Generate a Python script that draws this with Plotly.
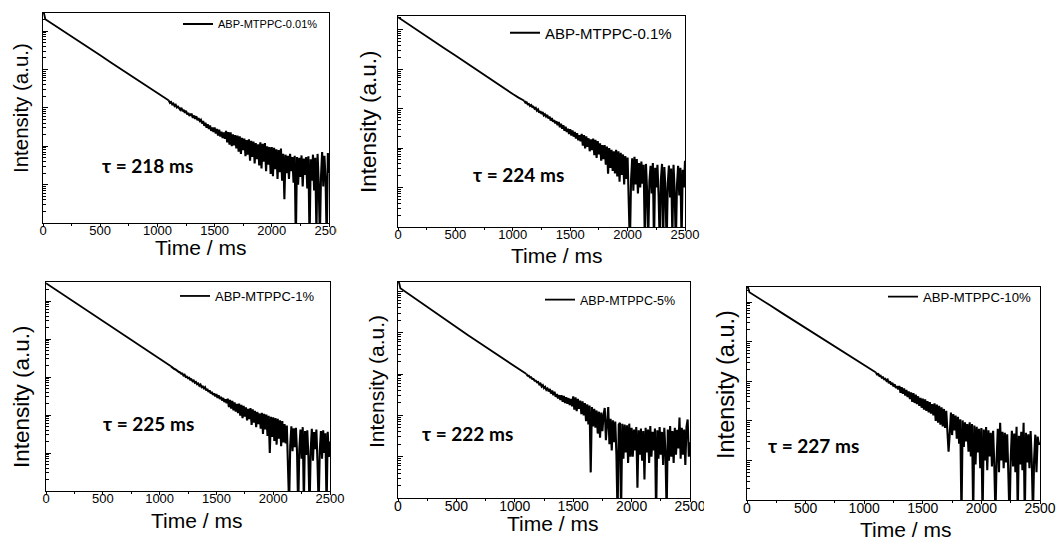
import numpy as np
import plotly.graph_objects as go

W, H = 1059, 543

# ---------------- data ----------------
series_names = ["ABP-MTPPC-0.01%", "ABP-MTPPC-0.1%", "ABP-MTPPC-1%", "ABP-MTPPC-5%", "ABP-MTPPC-10%"]
lifetimes_ms = ["218", "224", "225", "222", "227"]
x_tick_values = [0, 500, 1000, 1500, 2000, 2500]

head_time_ms = [0, 10, 20, 50, 100, 200, 300, 400, 500, 600, 700, 800, 900, 1000, 1050]
tail_time_ms = list(range(1100, 2501, 10))

# log10(intensity) values
p1_log_head = [5.46, 5.45, 5.31, 5.25, 5.15, 4.95, 4.76, 4.56, 4.37, 4.17, 3.97, 3.78, 3.58, 3.38, 3.27]
p1_log_tail = [
    3.19, 3.13, 3.15, 3.09, 3.11, 3.05, 3.08, 3.01, 3.03, 2.97,
    2.95, 3.00, 2.91, 2.95, 2.87, 2.92, 2.83, 2.87, 2.79, 2.83,
    2.83, 2.74, 2.80, 2.71, 2.78, 2.68, 2.73, 2.66, 2.69, 2.59,
    2.66, 2.53, 2.61, 2.48, 2.57, 2.45, 2.54, 2.40, 2.49, 2.37,
    2.49, 2.33, 2.45, 2.28, 2.43, 2.25, 2.38, 2.21, 2.36, 2.19,
    2.40, 2.10, 2.37, 2.04, 2.36, 2.00, 2.31, 2.02, 2.29, 1.94,
    2.28, 1.86, 2.26, 1.80, 2.22, 1.90, 2.20, 1.74, 2.16, 1.78,
    2.18, 1.62, 2.14, 1.72, 2.12, 1.55, 2.08, 1.66, 2.05, 1.50,
    2.10, 1.42, 2.06, 1.60, 2.08, 1.35, 2.00, 1.52, 1.98, 1.28,
    1.98, 1.22, 1.96, 1.40, 1.92, 1.15, 1.90, 1.32, 1.94, 1.10,
    1.80, 0.62, 1.78, 1.30, 1.75, 1.15, 1.80, 1.35, 1.72, 1.05,
    1.75, -0.5, 1.72, 1.00, 1.70, 1.20, 1.76, 0.95, 1.68, 1.25,
    1.72, 0.90, 1.74, -0.5, 1.66, 1.10, 1.78, 0.85, 1.70, -0.3,
    1.80, 1.05, -0.4, 1.20, 1.85, 0.95, 1.75, 1.15, -0.5, 1.82,
    1.30,
]

p2_log_head = [5.32, 5.30, 5.28, 5.22, 5.13, 4.93, 4.74, 4.54, 4.35, 4.15, 3.96, 3.76, 3.57, 3.37, 3.28]
p2_log_tail = [
    3.20, 3.15, 3.16, 3.11, 3.12, 3.07, 3.09, 3.04, 3.05, 3.00,
    3.02, 2.95, 2.98, 2.90, 2.94, 2.87, 2.91, 2.83, 2.86, 2.80,
    2.84, 2.75, 2.80, 2.70, 2.76, 2.67, 2.71, 2.63, 2.68, 2.58,
    2.66, 2.53, 2.62, 2.49, 2.58, 2.44, 2.54, 2.41, 2.49, 2.36,
    2.48, 2.32, 2.45, 2.29, 2.41, 2.24, 2.38, 2.20, 2.33, 2.17,
    2.36, 2.06, 2.33, 1.99, 2.30, 2.03, 2.25, 1.92, 2.22, 1.95,
    2.24, 1.82, 2.21, 1.75, 2.18, 1.84, 2.12, 1.68, 2.08, 1.72,
    2.08, 1.58, 2.04, 1.35, 2.00, 1.50, 1.96, 1.42, 1.92, 1.36,
    1.96, 1.28, 1.92, 1.15, 1.88, 1.32, 1.84, 1.08, 1.80, 1.22,
    1.76, 1.02, -0.5, 1.18, 1.74, 0.92, 1.78, 1.08, 1.72, 0.85,
    1.62, 1.00, 1.66, 1.10, 1.58, -0.4, 1.60, 0.90, -0.3, 1.15,
    1.55, 0.85, 1.62, -0.5, 1.50, 1.00, 1.58, 0.80, -0.5, 1.20,
    1.60, -0.4, 1.52, 0.95, -0.5, 1.10, 1.56, 0.75, 1.48, -0.3,
    1.58, 0.90, -0.5, 1.05, 1.55, 0.80, 1.50, -0.4, 1.45, 1.00,
    1.68,
]

p3_log_head = [5.47, 5.45, 5.43, 5.37, 5.27, 5.07, 4.87, 4.67, 4.47, 4.27, 4.07, 3.86, 3.66, 3.46, 3.37]
p3_log_tail = [
    3.28, 3.25, 3.24, 3.21, 3.20, 3.17, 3.16, 3.13, 3.12, 3.09,
    3.09, 3.04, 3.06, 3.00, 3.01, 2.97, 2.98, 2.93, 2.94, 2.89,
    2.91, 2.85, 2.87, 2.81, 2.83, 2.77, 2.80, 2.73, 2.75, 2.70,
    2.73, 2.65, 2.69, 2.61, 2.65, 2.57, 2.61, 2.53, 2.57, 2.49,
    2.55, 2.45, 2.52, 2.42, 2.48, 2.38, 2.45, 2.34, 2.41, 2.31,
    2.43, 2.21, 2.40, 2.17, 2.37, 2.12, 2.33, 2.09, 2.29, 2.05,
    2.30, 1.98, 2.27, 1.92, 2.24, 1.96, 2.20, 1.86, 2.16, 1.89,
    2.18, 1.74, 2.15, 1.80, 2.11, 1.68, 2.08, 1.76, 2.04, 1.64,
    2.06, 1.50, 2.03, 1.62, 2.01, 1.45, 1.98, 1.00, 1.95, 1.42,
    1.94, 1.32, 1.92, 1.22, 1.90, 1.38, 1.86, 1.18, 1.84, 1.28,
    1.76, 1.25, 1.72, 0.95, -0.4, 1.20, 1.70, 1.05, 1.65, 1.15,
    1.66, 1.00, -0.5, 1.10, 1.62, 0.85, 1.68, -0.4, 1.58, 0.95,
    1.60, 0.90, -0.5, 1.05, 1.64, 0.80, 1.55, 1.10, 1.62, 0.75,
    -0.4, 1.05, 1.58, 0.85, 1.60, 1.00, 1.52, -0.5, 1.56, 0.90,
    1.30,
]

p4_log_head = [5.22, 5.21, 5.08, 5.02, 4.92, 4.72, 4.53, 4.33, 4.13, 3.94, 3.75, 3.56, 3.38, 3.19, 3.10]
p4_log_tail = [
    3.00, 2.96, 2.96, 2.92, 2.92, 2.88, 2.88, 2.84, 2.84, 2.80,
    2.81, 2.75, 2.77, 2.70, 2.73, 2.66, 2.69, 2.62, 2.65, 2.58,
    2.64, 2.53, 2.60, 2.49, 2.57, 2.45, 2.52, 2.41, 2.49, 2.37,
    2.49, 2.33, 2.47, 2.30, 2.44, 2.28, 2.42, 2.25, 2.40, 2.22,
    2.46, 2.14, 2.44, 2.10, 2.40, 2.16, 2.36, 2.03, 2.34, 2.00,
    2.30, 1.86, 2.27, 1.78, 2.24, 0.62, 2.20, 1.73, 2.16, 1.70,
    2.12, 1.56, 2.09, 1.46, 2.07, 1.62, 2.02, 2.18, 1.40, 1.98,
    2.20, 1.30, 1.92, 1.15, 1.88, 1.35, 1.85, 1.05, -0.5, 1.78,
    1.82, -0.4, 1.80, 0.95, 1.78, 1.10, 1.76, 0.85, 1.80, 1.00,
    1.70, 1.00, 1.66, 1.15, 1.72, 0.25, 1.64, 1.05, 1.68, 0.90,
    1.62, 0.45, 1.70, 1.10, 1.66, 0.85, 1.74, 1.00, 1.60, 1.15,
    1.68, -0.5, 1.64, 0.95, 1.72, 1.05, 1.60, 0.80, 1.70, 1.10,
    -0.4, 1.66, 0.90, 1.74, 1.00, 1.62, 0.85, 1.70, 1.05, 1.65,
    1.20, 1.95, 0.95, 1.70, 1.05, 1.66, 0.80, 1.72, 1.90, 1.00,
    1.35,
]

p5_log_head = [5.37, 5.36, 5.25, 5.19, 5.10, 4.91, 4.72, 4.53, 4.34, 4.15, 3.96, 3.77, 3.59, 3.40, 3.30]
p5_log_tail = [
    3.22, 3.17, 3.18, 3.13, 3.14, 3.09, 3.10, 3.05, 3.06, 3.01,
    3.04, 2.95, 3.00, 2.91, 2.96, 2.87, 2.92, 2.83, 2.88, 2.79,
    2.88, 2.71, 2.85, 2.68, 2.82, 2.64, 2.78, 2.60, 2.74, 2.55,
    2.72, 2.48, 2.70, 2.45, 2.66, 2.42, 2.62, 2.38, 2.58, 2.33,
    2.56, 2.28, 2.54, 2.25, 2.50, 2.21, 2.47, 2.18, 2.42, 2.14,
    2.44, 2.00, 2.41, 1.95, 2.38, 1.90, 2.34, 1.86, 2.30, 1.82,
    2.25, 1.74, 1.22, 1.68, 2.21, 1.64, 2.17, 1.76, 2.13, 1.55,
    2.10, 1.42, 2.04, -0.5, 2.01, 1.34, 1.96, 1.48, 1.92, 1.22,
    1.96, 1.10, 1.92, -0.4, 1.88, 0.90, 1.85, 1.20, 1.80, 0.80,
    1.82, -0.5, 1.78, 1.00, 1.84, 0.75, 1.76, 1.10, 1.70, 0.85,
    1.75, 0.90, -0.4, 1.05, 1.80, 0.70, 1.95, 1.00, 1.72, 0.80,
    1.70, 0.95, 1.66, 0.65, -0.5, 1.05, 1.75, 0.85, 1.68, 0.70,
    1.85, -0.4, 1.62, 0.90, 1.72, 0.75, 1.95, -0.5, 1.70, 0.95,
    1.66, 0.80, 1.74, 0.95, -0.4, 1.05, 1.65, 0.70, 1.60, 1.40,
    1.45,
]

series_log = [
    (p1_log_head, p1_log_tail),
    (p2_log_head, p2_log_tail),
    (p3_log_head, p3_log_tail),
    (p4_log_head, p4_log_tail),
    (p5_log_head, p5_log_tail),
]

# ---------------- layout / style (pixels) ----------------
panels = [
    dict(box=(43, 329, 13, 223), ytop=5.47, tick=13, ytitle=(21, 108, 20.5), xtitle=(200, 247, 21),
         tau=(147.5, 165), leg=(183, 24, 11)),
    dict(box=(398, 685, 16, 227), ytop=5.35, tick=13, ytitle=(369, 122, 22.5), xtitle=(556, 255, 21),
         tau=(518.5, 174.5), leg=(510, 33, 15)),
    dict(box=(46, 330, 282, 491), ytop=5.50, tick=13, ytitle=(21, 397, 22.5), xtitle=(196, 520, 21),
         tau=(148.5, 423), leg=(180, 296, 13)),
    dict(box=(398, 690, 282, 498), ytop=5.23, tick=14, ytitle=(376, 382, 21), xtitle=(552, 523, 21),
         tau=(467.5, 433), leg=(545, 300, 12.5)),
    dict(box=(747, 1040, 287, 500), ytop=5.38, tick=14, ytitle=(726, 385, 23.5), xtitle=(905, 529, 21),
         tau=(813.5, 445), leg=(888, 297, 13.2)),
]

FONT = "Liberation Sans, Arial, sans-serif"
TAU_FONT = "Lato, Open Sans, sans-serif"


def px(x):
    return x / W


def py(y):
    return 1 - y / H


fig = go.Figure()
layout = dict(
    width=W, height=H, autosize=False,
    margin=dict(l=0, r=0, t=0, b=0, pad=0, autoexpand=False),
    paper_bgcolor="white", plot_bgcolor="white", showlegend=True,
    annotations=[], shapes=[],
)

for i, (p, (lh, lt)) in enumerate(zip(panels, series_log)):
    n = "" if i == 0 else str(i + 1)
    # clean early decay ...
    fig.add_trace(go.Scatter(
        x=head_time_ms + tail_time_ms[:1], y=np.power(10.0, np.array(lh + lt[:1])),
        mode="lines", name=series_names[i],
        line=dict(color="black", width=1.8),
        xaxis="x" + n, yaxis="y" + n, legend="legend" + n, showlegend=True,
    ))
    # ... and the noisy tail
    fig.add_trace(go.Scatter(
        x=tail_time_ms, y=np.power(10.0, np.array(lt)),
        mode="lines", name=series_names[i],
        line=dict(color="black", width=2.1),
        xaxis="x" + n, yaxis="y" + n, legend="legend" + n, showlegend=False,
    ))
    x0, x1, ytop_px, ybot_px = p["box"]
    layout["xaxis" + n] = dict(
        domain=[px(x0), px(x1)], anchor="y" + n, range=[0, 2500],
        tickmode="array", tickvals=x_tick_values,
        ticks="outside", ticklen=3, tickwidth=1.2, tickcolor="black",
        ticklabelstandoff=-8,
        minor=dict(ticks="outside", ticklen=2, dtick=250, tick0=0, tickcolor="black", tickwidth=1),
        showline=True, mirror=True, linecolor="black", linewidth=1.3,
        showgrid=False, zeroline=False,
        tickfont=dict(family=FONT, size=p["tick"], color="black"),
    )
    layout["yaxis" + n] = dict(
        domain=[py(ybot_px), py(ytop_px)], anchor="x" + n, type="log",
        range=[0, p["ytop"]], dtick=1, tick0=0,
        ticks="inside", ticklen=5, tickwidth=1.2, tickcolor="black",
        minor=dict(ticks="inside", ticklen=3, dtick="D1", tickcolor="black", tickwidth=1),
        showticklabels=False,
        showline=True, mirror=True, linecolor="black", linewidth=1.3,
        showgrid=False, zeroline=False,
    )
    lx, ly, lsize = p["leg"]
    layout["legend" + n] = dict(
        x=px(lx - 5), y=py(ly), xanchor="left", yanchor="middle",
        bgcolor="rgba(0,0,0,0)", borderwidth=0, itemwidth=30,
        font=dict(family=FONT, size=lsize, color="black"),
    )
    yx, yy, ys = p["ytitle"]
    layout["annotations"].append(dict(
        text="Intensity (a.u.)", x=px(yx), y=py(yy), xref="paper", yref="paper",
        xanchor="center", yanchor="middle", textangle=-90, showarrow=False,
        font=dict(family=FONT, size=ys, color="black"),
    ))
    tx, ty, ts = p["xtitle"]
    layout["annotations"].append(dict(
        text="Time / ms", x=px(tx), y=py(ty), xref="paper", yref="paper",
        xanchor="center", yanchor="middle", showarrow=False,
        font=dict(family=FONT, size=ts, color="black"),
    ))
    ax_, ay_ = p["tau"]
    layout["annotations"].append(dict(
        text="<b>\u03c4 = " + lifetimes_ms[i] + " ms</b>", x=px(ax_), y=py(ay_),
        xref="paper", yref="paper", xanchor="center", yanchor="middle", showarrow=False,
        font=dict(family=TAU_FONT, size=19, color="black"),
    ))

# the source image is cropped just right of two panels
for (cx0, cx1, cy0, cy1) in [(337, 352, 224, 242), (704, 718, 500, 518)]:
    layout["shapes"].append(dict(
        type="rect", xref="paper", yref="paper", x0=px(cx0), x1=px(cx1), y0=py(cy1), y1=py(cy0),
        fillcolor="white", line=dict(width=0), layer="above",
    ))

fig.update_layout(**layout)
fig.write_html(
    "out.html",
    config={"displayModeBar": False, "responsive": False},
    post_script="document.body.style.margin='0';document.documentElement.style.overflow='hidden';",
)
